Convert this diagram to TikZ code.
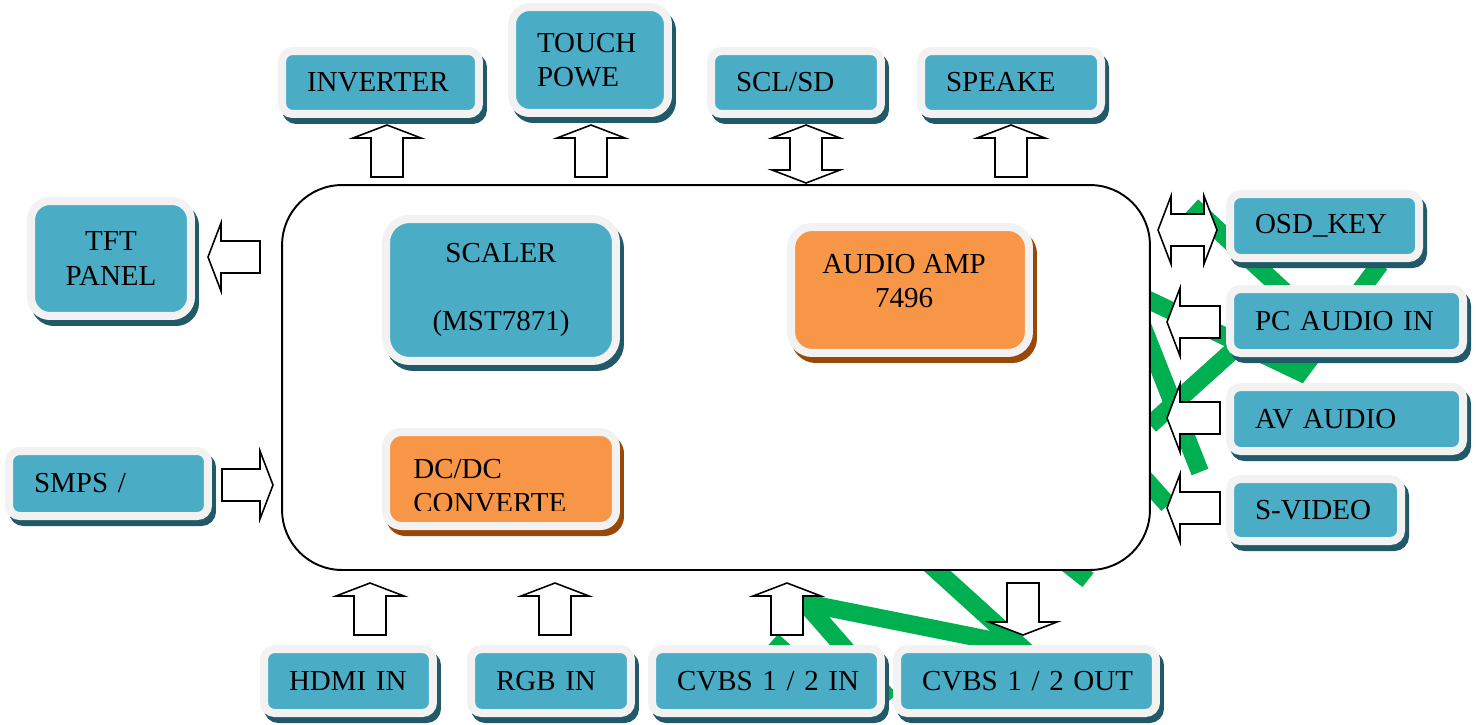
\documentclass[tikz,border=0pt]{standalone}
\usepackage{fontspec}
\setmainfont{Liberation Serif}
\usetikzlibrary{positioning, calc}
\definecolor{tealfill}{HTML}{4BACC6}
\definecolor{tealshade}{HTML}{215968}
\definecolor{orangefill}{HTML}{F79646}
\definecolor{orangeshade}{HTML}{984807}
\definecolor{rim}{HTML}{F2F2F2}
\definecolor{wire}{HTML}{00B050}
\newcommand{\boxfont}{\fontsize{16.5}{19.4}\selectfont}
\tikzset{
    %Define style for boxes
    box/.style={
           rectangle,
           rounded corners=0.21cm,
           draw=rim, line width=0.16cm,
           fill=#1fill,
           preaction={draw=#1shade, fill=#1shade, transform canvas={shift={(4,6)}}},
           inner xsep=0.5cm, inner ysep=0pt,
           align=left,
           font=\boxfont},
    box/.default=teal,
    % Define style for the board
    board/.style={
           rectangle,
           rounded corners=1.2cm,
           draw=black, line width=1.1pt,
           fill=white},
    % Define style for the block arrows
    blockarr/.style={
           draw=black, fill=white,
           line width=0.9pt,
           line join=miter},
    greenline/.style={
           draw=wire, line width=0.36cm,
           line cap=butt, line join=miter},
    fatarrow/.pic={
           \path[blockarr] (0,0) -- (-13,34) -- (-13,16) -- (-#1,16) -- (-#1,-16)
               -- (-13,-16) -- (-13,-34) -- cycle;},
    fatarrows/.pic={
           \path[blockarr] (0,0) -- (-13,34) -- (-13,16) -- (-#1+13,16) -- (-#1+13,34)
               -- (-#1,0) -- (-#1+13,-34) -- (-#1+13,-16) -- (-13,-16) -- (-13,-34) -- cycle;}
}

\begin{document}
\begin{tikzpicture}[x=0.02cm, y=-0.02cm]
	\useasboundingbox (0,0) rectangle (1476,724);
	%
	% green traces
	%
	\draw[greenline] (1192,206) -- (1285,292);
	\draw[greenline] (1140,296) -- (1300,372) -- (1380,264);
	\draw[greenline] (1150,425) -- (1250,335);
	\draw[greenline] (1140,320) -- (1200,472);
	\draw[greenline] (1110,440) -- (1168,505);
	\draw[greenline] (1050,550) -- (1088,580);
	\draw[greenline] (740,690) -- (785,640);
	\draw[greenline] (890,700) -- (805,603) -- (1015,645);
	\draw[greenline] (870,510) -- (1030,655);
	%
	% board
	%
	\node[board, minimum width=17.36cm, minimum height=7.7cm] (board) at (716,377.5) {};
	%
	% blocks
	%
	\node[box, text width=2.94cm, minimum height=1.26cm] (inverter) at (380.5,82.5) {INVERTER};
	\node[box, text width=2.12cm, minimum height=2.12cm, rounded corners=0.35cm] (touch) at (590,60) {TOUCH\\POWE};
	\node[box, text width=2.4cm, minimum height=1.26cm] (scl) at (796,82.5) {SCL/SD};
	\node[box, text width=2.6cm, minimum height=1.26cm] (speaker) at (1011,82.5) {SPEAKE};
	\node[box, align=center, minimum width=3.2cm, minimum height=2.3cm, rounded corners=0.38cm] (tft) at (111,258.5) {TFT\\PANEL};
	\node[box, text width=2.98cm, minimum height=1.3cm] (smps) at (108.5,483.5) {SMPS~/};
	\node[box, text width=2.78cm, minimum height=1.28cm] (osd) at (1324.5,226) {OSD\_KEY};
	\node[box, text width=3.66cm, minimum height=1.28cm] (pcaudio) at (1346.5,321) {PC~AUDIO~IN};
	\node[box, text width=3.66cm, minimum height=1.28cm] (avaudio) at (1346.5,419) {AV~AUDIO};
	\node[box, text width=2.42cm, minimum height=1.24cm] (svideo) at (1315.5,510) {S-VIDEO};
	\node[box, text width=2.38cm, minimum height=1.28cm] (hdmi) at (348.5,681) {HDMI~IN};
	\node[box, text width=2.2cm, minimum height=1.28cm] (rgb) at (551,681) {RGB~IN};
	\node[box, text width=3.58cm, minimum height=1.28cm] (cvbsin) at (766.5,681) {CVBS~1~/~2~IN};
	\node[box, text width=4.18cm, minimum height=1.28cm] (cvbsout) at (1026.5,681) {CVBS~1~/~2~OUT};
	% inside the board
	\node[box, align=center, minimum width=4.6cm, minimum height=2.84cm, rounded corners=0.47cm] (scaler) at (501,290) {SCALER\\[0.68cm](MST7871)};
	\node[box=orange, minimum width=4.6cm, minimum height=1.88cm, rounded corners=0.31cm] (dcdc) at (501,479) {};
	\begin{scope}
		\clip (380,420) rectangle (630,510);
		\node[font=\boxfont, align=left, anchor=west, inner sep=0pt] (dcdc-text) at (413,486) {DC/DC\\CONVERTE};
	\end{scope}
	\node[box=orange, minimum width=4.76cm, minimum height=2.52cm, rounded corners=0.42cm] (amp) at (910,290) {};
	\node[font=\boxfont, align=center, inner sep=0pt] (amp-text) at (904,281) {AUDIO AMP\\7496};
	%
	% arrows
	%
	\pic[rotate=90] (inv-arr) at (387,125) {fatarrow=52};
	\pic[rotate=90] (touch-arr) at (591,125) {fatarrow=52};
	\pic[rotate=90] (scl-arr) at (806,125) {fatarrows=58};
	\pic[rotate=90] (spk-arr) at (1011,125) {fatarrow=52};
	\pic[rotate=180] (tft-arr) at (208,257) {fatarrow=52};
	\pic (smps-arr) at (273,485) {fatarrow=51};
	\pic[rotate=180] (osd-arr) at (1158,230) {fatarrows=59};
	\pic[rotate=180] (pc-arr) at (1167,322) {fatarrow=53};
	\pic[rotate=180] (av-arr) at (1167,418) {fatarrow=53};
	\pic[rotate=180] (sv-arr) at (1167,508) {fatarrow=53};
	\pic[rotate=90] (hdmi-arr) at (370,583) {fatarrow=52};
	\pic[rotate=90] (rgb-arr) at (555,583) {fatarrow=52};
	\pic[rotate=90] (cin-arr) at (787,583) {fatarrow=52};
	\pic[rotate=-90] (cout-arr) at (1023,635) {fatarrow=52};
\end{tikzpicture}
\end{document}
